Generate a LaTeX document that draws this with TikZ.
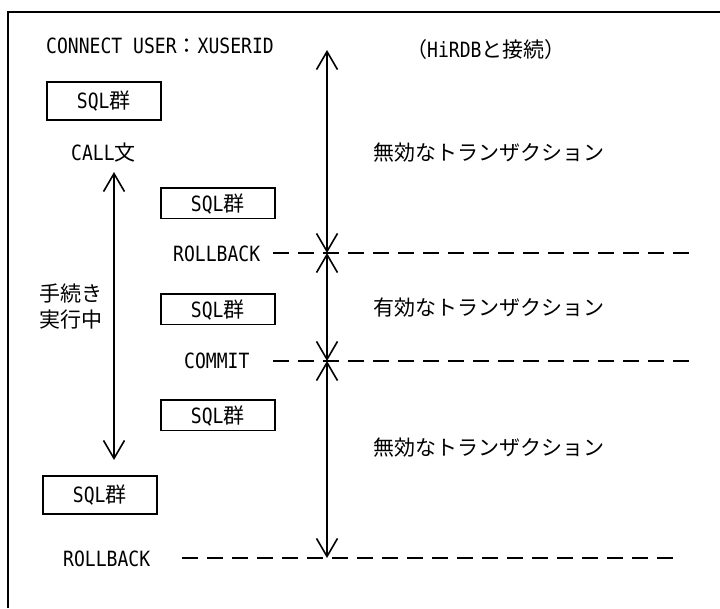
\documentclass[tikz,border=0pt]{standalone}
\usepackage{fontspec}
\setmainfont[FakeStretch=0.86]{DejaVu Sans Mono}
\newfontfamily\jp{Noto Sans CJK JP}
\usetikzlibrary{arrows.meta}
\begin{document}
\begin{tikzpicture}[x=1pt,y=-1pt,
  every node/.style={inner sep=0pt, font=\fontsize{21}{25}\selectfont},
  txt/.style={anchor=base west},
  jtxt/.style={txt, font=\jp\fontsize{21}{25}\selectfont},
  sqlbox/.style={draw, line width=1.6pt, minimum width=114pt, text height=17pt, text depth=1pt, anchor=north west},
  tallbox/.style={sqlbox, minimum height=38pt},
  lowbox/.style={sqlbox, minimum height=30.5pt},
  span/.style={line width=1.6pt, {Straight Barb[length=18pt,width=21pt]}-{Straight Barb[length=18pt,width=21pt]}},
  sep/.style={line width=1.6pt, dash pattern=on 16pt off 9pt},
  frame/.style={line width=2pt}
]
\useasboundingbox (0,0) rectangle (720,608);
\draw[frame] (8,608) -- (8,12) -- (720,12);

% texts
\node[txt] (connect) at (46,53) {CONNECT USER{\jp ：}XUSERID};
\node[txt] (hirdb) at (406,57) {{\jp （}HiRDB{\jp と接続）}};
\node[txt] (call) at (71,160) {CALL{\jp 文}};
\node[txt] (rb1) at (173,261) {ROLLBACK};
\node[txt] (commit) at (184,368) {COMMIT};
\node[txt] (rb2) at (63,566) {ROLLBACK};
\node[jtxt] (proc1) at (39,301) {手続き};
\node[jtxt] (proc2) at (39,327) {実行中};
\node[jtxt] (inv1) at (373,160) {無効なトランザクション};
\node[jtxt] (val) at (373,315) {有効なトランザクション};
\node[jtxt] (inv2) at (373,455) {無効なトランザクション};

% boxes
\node[tallbox] (b1) at (46,81) {SQL{\jp 群}};
\node[lowbox] (b2) at (160,187) {SQL{\jp 群}};
\node[lowbox] (b3) at (160,293) {SQL{\jp 群}};
\node[lowbox] (b4) at (160,399) {SQL{\jp 群}};
\node[tallbox] (b5) at (42,475) {SQL{\jp 群}};

% separator lines
\coordinate (s1a) at (273,253); \coordinate (s1b) at (690,253);
\coordinate (s2a) at (273,361); \coordinate (s2b) at (690,361);
\coordinate (s3a) at (182,558); \coordinate (s3b) at (673,558);
\draw[sep] (s1a) -- (s1b);
\draw[sep] (s2a) -- (s2b);
\draw[sep] (s3a) -- (s3b);

% transaction arrows
\coordinate (t0) at (327,50);
\coordinate (t1) at (327,253);
\coordinate (t2) at (327,361);
\coordinate (t3) at (327,558);
\draw[span] (t0) -- (t1);
\draw[span] (t1) -- (t2);
\draw[span] (t2) -- (t3);

% procedure arrow
\coordinate (p0) at (114,172);
\coordinate (p1) at (114,460);
\draw[span] (p0) -- (p1);
\end{tikzpicture}
\end{document}
